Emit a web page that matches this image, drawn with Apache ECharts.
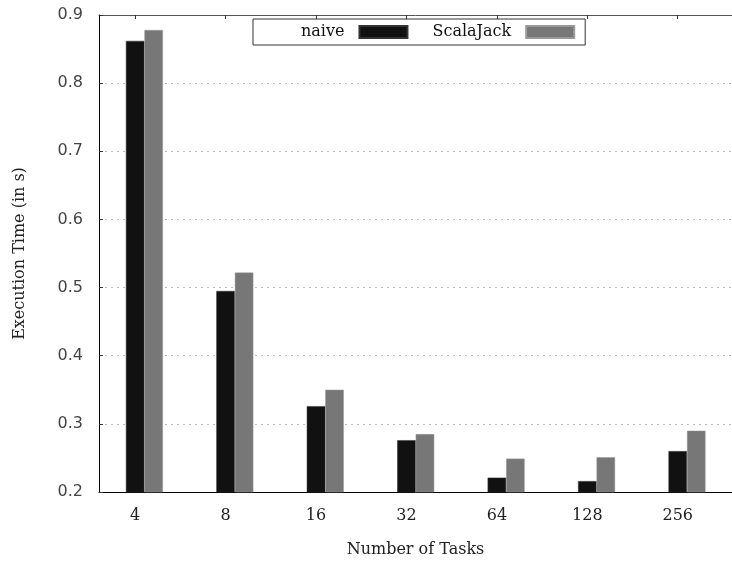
<!DOCTYPE html>
<html>
<head>
<meta charset="utf-8">
<script src="https://cdn.jsdelivr.net/npm/echarts@6/dist/echarts.min.js"></script>
<style>html,body{margin:0;padding:0;background:#fff}#c{width:732px;height:563px}</style>
</head>
<body>
<div id="c"></div>
<script>
var categories = ['4', '8', '16', '32', '64', '128', '256'];
var naive = [0.862, 0.495, 0.326, 0.276, 0.221, 0.216, 0.260];
var scalaJack = [0.878, 0.522, 0.350, 0.285, 0.249, 0.251, 0.290];
var yTicks = [0.2, 0.3, 0.4, 0.5, 0.6, 0.7, 0.8, 0.9];

var idx = categories.map(function (c, i) { return i; });
var serif = 'DejaVu Serif';

var chart = echarts.init(document.getElementById('c'), null, {renderer: 'canvas'});
chart.setOption({
  animation: false,
  backgroundColor: '#fff',
  grid: {left: 99, right: 0, top: 15, bottom: 71, containLabel: false},
  legend: {
    data: ['naive', 'ScalaJack'],
    left: 253, top: 19,
    align: 'right',
    icon: 'rect',
    itemWidth: 48, itemHeight: 12,
    itemGap: 24,
    padding: [5, 10, 5, 48],
    borderColor: '#333', borderWidth: 1,
    textStyle: {fontFamily: serif, fontSize: 16, color: '#111', lineHeight: 14, padding: [0, 10, 0, 0]}
  },
  xAxis: [{
    type: 'value', min: -0.4, max: 6.6, position: 'bottom',
    splitLine: {show: false},
    axisLine: {onZero: false, lineStyle: {color: '#000', width: 1}},
    axisTick: {inside: true, length: 4, customValues: idx, lineStyle: {color: '#000'}},
    axisLabel: {customValues: idx, margin: 16, fontFamily: serif, fontSize: 16, color: '#222',
      formatter: function (v) { return categories[Math.round(v)]; }},
    name: 'Number of Tasks', nameLocation: 'middle', nameGap: 50,
    nameTextStyle: {fontFamily: serif, fontSize: 16, color: '#222'}
  }, {
    type: 'value', min: -0.4, max: 6.6, position: 'top',
    splitLine: {show: false},
    axisLine: {onZero: false, lineStyle: {color: '#555', width: 1}},
    axisTick: {inside: true, length: 4, customValues: idx, lineStyle: {color: '#333'}},
    axisLabel: {show: false}
  }],
  yAxis: {
    type: 'value', min: yTicks[0], max: yTicks[yTicks.length - 1], interval: 0.1,
    position: 'left',
    axisLine: {show: true, onZero: false, lineStyle: {color: '#000', width: 1}},
    axisTick: {show: true, inside: true, length: 4, lineStyle: {color: '#333'}},
    splitLine: {show: true, lineStyle: {color: '#bbb', type: [2, 4], width: 1}},
    axisLabel: {margin: 16, fontFamily: 'DejaVu Sans', fontSize: 16, color: '#444',
      formatter: function (v) { return v.toFixed(1); }},
    name: 'Execution Time (in s)', nameLocation: 'middle', nameGap: 71,
    nameTextStyle: {fontFamily: serif, fontSize: 16, color: '#222'}
  },
  series: [{
    name: 'pad', type: 'bar', barWidth: 18.5, barGap: '0%',
    data: [], silent: true
  }, {
    name: 'naive', type: 'bar', barWidth: 18.5, barGap: '0%',
    itemStyle: {color: '#111', borderColor: '#333', borderWidth: 0.5},
    data: idx.map(function (i) { return [i, naive[i]]; })
  }, {
    name: 'ScalaJack', type: 'bar', barWidth: 18.5, barGap: '0%',
    itemStyle: {color: '#777', borderColor: '#999', borderWidth: 0.5},
    data: idx.map(function (i) { return [i, scalaJack[i]]; })
  }]
});
</script>
</body>
</html>
